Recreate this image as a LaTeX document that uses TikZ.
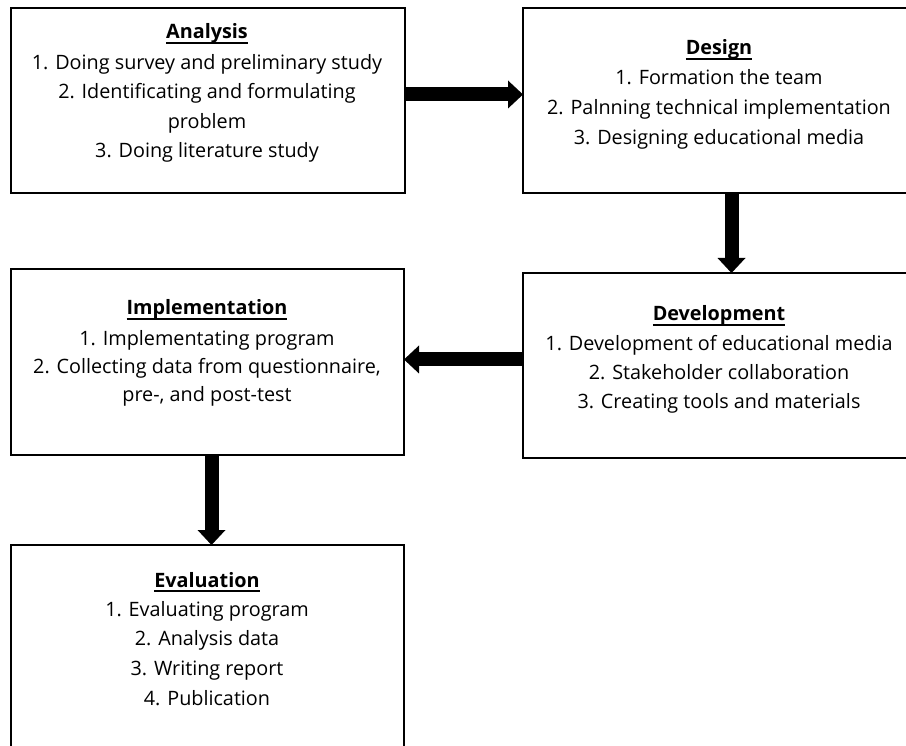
\documentclass[tikz,border=0pt]{standalone}
\usepackage{fontspec}
\setmainfont{Open Sans}
\usetikzlibrary{arrows.meta,calc}
\newcommand\titleul[1]{\setbox0=\hbox{#1}\rlap{\rule[-4.6pt]{\wd0}{1.3pt}}\box0}
\begin{document}
\begin{tikzpicture}[x=1pt,y=-1pt,
  box/.style={draw=black, line width=1.4pt, inner sep=0pt, outer sep=0pt, rectangle},
  txt/.style={anchor=base, inner sep=0pt, font=\fontsize{19.8}{24}\selectfont},
  ttl/.style={anchor=base, inner sep=0pt, font=\fontsize{19.8}{24}\selectfont\bfseries},
  bigarrow/.style={line width=14pt, -{Triangle[length=15pt,width=28pt,line width=0pt]}}]
\useasboundingbox (0,0) rectangle (906,746);
\clip (0,0) rectangle (906,746);
\fill[white] (0,0) rectangle (906,746);

% boxes
\node[box, minimum width=394pt, minimum height=185pt] (an) at (208,100.5) {};
\node[box, minimum width=397pt, minimum height=185pt] (de) at (721.5,100.5) {};
\node[box, minimum width=393pt, minimum height=186pt] (im) at (207.5,362) {};
\node[box, minimum width=397pt, minimum height=185pt] (dv) at (721.5,365.5) {};
\node[box, minimum width=393pt, minimum height=215pt] (ev) at (207.5,652.5) {};

% Analysis
\node[ttl] (an0) at (207,39) {\titleul{Analysis}};
\node[txt] (an1) at (207,70) {1. Doing survey and preliminary study};
\node[txt] (an2) at (207,99) {2. Identificating and formulating};
\node[txt] (an3) at (207,128.5) {problem};
\node[txt] (an4) at (207,158) {3. Doing literature study};

% Design
\node[ttl] (de0) at (719,55) {\titleul{Design}};
\node[txt] (de1) at (719,85) {1. Formation the team};
\node[txt] (de2) at (719,115) {2. Palnning technical implementation};
\node[txt] (de3) at (719,144.5) {3. Designing educational media};

% Implementation
\node[ttl] (im0) at (207,315) {\titleul{Implementation}};
\node[txt] (im1) at (207,345) {1. Implementating program};
\node[txt] (im2) at (207,373.5) {2. Collecting data from questionnaire,};
\node[txt] (im3) at (207,402) {pre-, and post-test};

% Development
\node[ttl] (dv0) at (719,321) {\titleul{Development}};
\node[txt] (dv1) at (719,351) {1. Development of educational media};
\node[txt] (dv2) at (719,380) {2. Stakeholder collaboration};
\node[txt] (dv3) at (719,409) {3. Creating tools and materials};

% Evaluation
\node[ttl] (ev0) at (207,587) {\titleul{Evaluation}};
\node[txt] (ev1) at (207,616) {1. Evaluating program};
\node[txt] (ev2) at (207,645.5) {2. Analysis data};
\node[txt] (ev3) at (207,675.5) {3. Writing report};
\node[txt] (ev4) at (207,705.5) {4. Publication};

% connectors
\coordinate (a2d) at ($(an.east)+(0,-6)$);
\draw[bigarrow] (a2d) -- (a2d -| de.west);
\coordinate (d2v) at ($(de.south)+(10,0)$);
\draw[bigarrow] (d2v) -- (d2v |- dv.north);
\coordinate (v2i) at ($(dv.west)+(0,-6)$);
\draw[bigarrow] (v2i) -- (v2i -| im.east);
\coordinate (i2e) at ($(im.south)+(4,0)$);
\draw[bigarrow] (i2e) -- (i2e |- ev.north);
\end{tikzpicture}
\end{document}
